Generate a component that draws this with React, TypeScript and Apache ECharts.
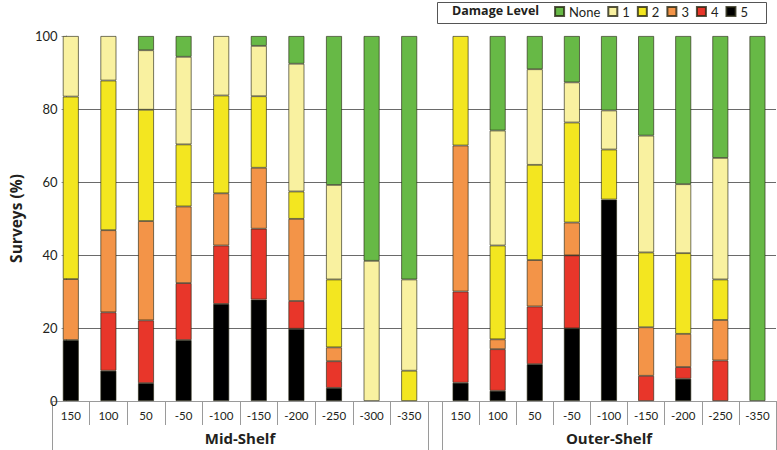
import React, { useEffect, useRef } from "react";
import * as echarts from "echarts";

const midCategories = ["150", "100", "50", "-50", "-100", "-150", "-200", "-250", "-300", "-350"];
const outerCategories = ["150", "100", "50", "-50", "-100", "-150", "-200", "-250", "-350"];
const groupNames = ["Mid-Shelf", "Outer-Shelf"];
const yTicks = [0, 20, 40, 60, 80, 100];

// Damage level percentages (bottom to top: 5, 4, 3, 2, 1, None)
const midLevel5 = [16.7, 8.3, 4.9, 16.7, 26.6, 27.8, 19.8, 3.6, 0, 0];
const midLevel4 = [0, 16.0, 17.2, 15.6, 16.0, 19.4, 7.6, 7.3, 0, 0];
const midLevel3 = [16.7, 22.5, 27.2, 21.0, 14.3, 16.7, 22.5, 3.8, 0, 0];
const midLevel2 = [50.0, 41.0, 30.5, 17.0, 26.8, 19.6, 7.5, 18.6, 0, 8.3];
const midLevel1 = [16.6, 12.2, 16.3, 24.0, 16.3, 13.8, 35.0, 25.9, 38.4, 25.0];
const midNone = [0, 0, 3.9, 5.7, 0, 2.7, 7.6, 40.8, 61.6, 66.7];

const outerLevel5 = [5.0, 2.8, 10.1, 19.9, 55.2, 0, 6.1, 0, 0];
const outerLevel4 = [25.0, 11.4, 15.8, 20.0, 0, 6.9, 3.2, 11.1, 0];
const outerLevel3 = [40.0, 2.7, 12.7, 9.0, 0, 13.3, 9.1, 11.1, 0];
const outerLevel2 = [30.0, 25.7, 26.1, 27.4, 13.7, 20.5, 22.1, 11.1, 0];
const outerLevel1 = [0, 31.5, 26.2, 11.0, 10.7, 32.0, 18.9, 33.3, 0];
const outerNone = [0, 25.9, 9.1, 12.7, 20.4, 27.3, 40.6, 33.4, 100];

const levelNames = ["5", "4", "3", "2", "1", "None"];
const levelColors = ["#000000", "#e8362a", "#f39448", "#f3e620", "#f9f1a0", "#67b946"];
const midData = [midLevel5, midLevel4, midLevel3, midLevel2, midLevel1, midNone];
const outerData = [outerLevel5, outerLevel4, outerLevel3, outerLevel2, outerLevel1, outerNone];
const legendOrder = ["None", "1", "2", "3", "4", "5"];
const legendTitle = "Damage Level";

const FONT = "Lato";
const BOLD_FONT = "Open Sans";
const AXIS_GRAY = "#9a9a9a";
const TEXT = "#231f20";

export default function App() {
  const ref = useRef<HTMLDivElement>(null);

  useEffect(() => {
    document.body.style.margin = "0";
    if (!ref.current) return;
    const chart = echarts.init(ref.current, null, { renderer: "svg" });

    const clean = (arr: number[]) => arr.map((v) => (v === 0 ? null : v));
    const series: any[] = [];
    levelNames.forEach((name, i) => {
      const itemStyle = {
        color: levelColors[i],
        borderColor: "rgba(40,40,20,0.8)",
        borderWidth: 0.8,
      };
      series.push({
        name,
        type: "bar",
        stack: "mid",
        xAxisIndex: 1,
        yAxisIndex: 1,
        barWidth: 16,
        data: clean(midData[i]),
        itemStyle,
      });
      series.push({
        name,
        type: "bar",
        stack: "outer",
        xAxisIndex: 3,
        yAxisIndex: 2,
        barWidth: 16,
        data: clean(outerData[i]),
        itemStyle,
      });
    });

    const hiddenY = (gridIndex: number) => ({
      type: "value",
      gridIndex,
      min: 0,
      max: 100,
      interval: 20,
      show: false,
    });

    const catAxis = (gridIndex: number, data: string[]) => ({
      type: "category",
      gridIndex,
      data,
      position: "bottom",
      axisLine: { show: true, lineStyle: { color: AXIS_GRAY, width: 1 } },
      axisTick: { show: true, length: 24, interval: 0, lineStyle: { color: AXIS_GRAY } },
      axisLabel: { interval: 0, margin: 8, fontSize: 11.5, fontFamily: FONT, color: TEXT },
      splitLine: { show: false },
    });

    const groupAxis = (gridIndex: number, name: string) => ({
      type: "category",
      gridIndex,
      data: [name],
      position: "bottom",
      offset: 0,
      axisLine: { show: false },
      axisTick: { show: true, length: 49, lineStyle: { color: AXIS_GRAY } },
      axisLabel: {
        margin: 29,
        fontSize: 15,
        fontWeight: "bold",
        fontFamily: BOLD_FONT,
        color: TEXT,
      },
      splitLine: { show: false },
    });

    const option: any = {
      animation: false,
      backgroundColor: "#ffffff",
      grid: [
        { left: 52, right: 1, top: 36, height: 365 },
        { left: 52, width: 376, top: 36, height: 365 },
        { left: 442, right: 1, top: 36, height: 365 },
      ],
      xAxis: [
        {
          type: "category",
          gridIndex: 0,
          data: [""],
          axisLine: { show: true, lineStyle: { color: AXIS_GRAY } },
          axisTick: { show: false },
          axisLabel: { show: false },
        },
        catAxis(1, midCategories),
        groupAxis(1, groupNames[0]),
        catAxis(2, outerCategories),
        groupAxis(2, groupNames[1]),
      ],
      yAxis: [
        {
          type: "value",
          gridIndex: 0,
          min: yTicks[0],
          max: yTicks[yTicks.length - 1],
          interval: 20,
          name: "Surveys (%)",
          nameLocation: "middle",
          nameGap: 37,
          nameTextStyle: { fontSize: 15.5, fontWeight: "bold", fontFamily: BOLD_FONT, color: TEXT },
          axisLine: { show: true, lineStyle: { color: AXIS_GRAY } },
          axisTick: { show: true, length: 5, lineStyle: { color: AXIS_GRAY } },
          axisLabel: { margin: 9, fontSize: 13, fontFamily: FONT, color: TEXT },
          splitLine: {
            show: true,
            lineStyle: {
              color: ["transparent", "#6a6a6a", "#6a6a6a", "#6a6a6a", "#6a6a6a", "transparent"],
              width: 1,
            },
          },
        },
        hiddenY(1),
        hiddenY(2),
      ],
      legend: {
        data: legendOrder,
        right: 29,
        top: 5,
        padding: 0,
        orient: "horizontal",
        icon: "rect",
        itemWidth: 9,
        itemHeight: 9,
        itemGap: 7,
        textStyle: { fontSize: 13, fontFamily: FONT, color: TEXT },
      },
      graphic: [
        {
          type: "rect",
          z: -1,
          shape: { x: 437.5, y: 2.5, width: 329, height: 21 },
          style: { fill: "#ffffff", stroke: "#555555", lineWidth: 1 },
        },
        {
          type: "text",
          left: 452,
          top: 4,
          z: 100,
          style: {
            text: legendTitle,
            fontSize: 12.5,
            fontWeight: "bold",
            fontFamily: BOLD_FONT,
            fill: TEXT,
          },
        },
      ],
      series,
    };

    chart.setOption(option);
    return () => chart.dispose();
  }, []);

  return <div ref={ref} style={{ width: 777, height: 450 }} />;
}
